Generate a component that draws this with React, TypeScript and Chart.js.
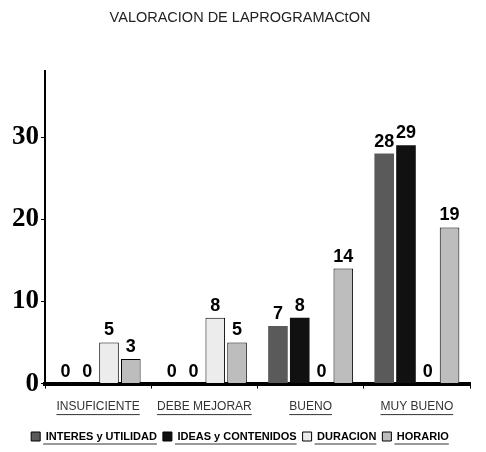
import React, { useEffect, useRef } from "react";
import { Chart, registerables } from "chart.js";

Chart.register(...registerables);

const categories = ["INSUFICIENTE", "DEBE MEJORAR", "BUENO", "MUY BUENO"];
const seriesNames = ["INTERES y UTILIDAD", "IDEAS y CONTENIDOS", "DURACION", "HORARIO"];
const interes = [0, 0, 7, 28];
const ideas = [0, 0, 8, 29];
const duracion = [5, 8, 0, 0];
const horario = [3, 5, 14, 19];
const yTicks = [0, 10, 20, 30];

const colors = ["#5a5a5a", "#111111", "#ececec", "#bdbdbd"];

const labelPlugin = {
  id: "valueLabels",
  afterDatasetsDraw(chart: any) {
    const ctx = chart.ctx;
    ctx.save();
    ctx.font = "bold 18px 'Liberation Sans', Arial, sans-serif";
    ctx.fillStyle = "#000";
    ctx.textAlign = "center";
    ctx.textBaseline = "bottom";
    chart.data.datasets.forEach((ds: any, i: number) => {
      const meta = chart.getDatasetMeta(i);
      meta.data.forEach((bar: any, j: number) => {
        ctx.fillText(String(ds.data[j]), bar.x, bar.y - 3);
      });
    });
    ctx.restore();
  },
  afterDraw(chart: any) {
    const ctx = chart.ctx;
    ctx.save();
    ctx.strokeStyle = "#333";
    ctx.lineWidth = 1;
    const xs = chart.scales.x;
    ctx.font = "12px 'Liberation Sans', Arial, sans-serif";
    const ly = xs.top + 31;
    categories.forEach((c, i) => {
      const x = xs.getPixelForValue(i);
      const w = ctx.measureText(c).width;
      ctx.beginPath();
      ctx.moveTo(x - w / 2, ly);
      ctx.lineTo(x + w / 2, ly);
      ctx.stroke();
    });
    const lg = chart.legend;
    if (lg && lg.legendHitBoxes) {
      lg.legendHitBoxes.forEach((hb: any) => {
        ctx.beginPath();
        ctx.moveTo(hb.left + 12, hb.top + hb.height + 2);
        ctx.lineTo(hb.left + hb.width, hb.top + hb.height + 2);
        ctx.stroke();
      });
    }
    ctx.restore();
  },
};

export default function App() {
  const ref = useRef<HTMLCanvasElement | null>(null);
  useEffect(() => {
    document.body.style.margin = "0";
    const chart = new Chart(ref.current as HTMLCanvasElement, {
      type: "bar",
      data: {
        labels: categories,
        datasets: [interes, ideas, duracion, horario].map((d, i) => ({
          label: seriesNames[i],
          data: d,
          backgroundColor: colors[i],
          borderColor: "#000",
          borderWidth: i === 2 || i === 3 ? 1 : 0,
          categoryPercentage: 0.82,
          barPercentage: 0.9,
        })),
      },
      options: {
        animation: false,
        responsive: false,
        layout: { padding: { left: 10, right: 16, top: 0, bottom: 0 } },
        plugins: {
          title: {
            display: true,
            text: "VALORACION DE LAPROGRAMACtON",
            color: "#222",
            font: { family: "'Liberation Sans', Arial, sans-serif", size: 14.5, weight: "normal" },
            padding: { top: 9, bottom: 45 },
          },
          legend: {
            position: "bottom",
            labels: {
              boxWidth: 9,
              boxHeight: 9,
              color: "#000",
              padding: 6,
              font: { family: "'Liberation Sans', Arial, sans-serif", size: 11, weight: "bold" },
              generateLabels: (chart: any) =>
                chart.data.datasets.map((ds: any, i: number) => ({
                  text: ds.label,
                  fillStyle: colors[i],
                  strokeStyle: "#000",
                  lineWidth: 1,
                  datasetIndex: i,
                  fontColor: "#000",
                })),
            },
          },
          tooltip: { enabled: false },
        },
        scales: {
          x: {
            grid: { display: true, drawOnChartArea: false, tickLength: 5, color: "#000", lineWidth: 1 },
            border: { display: true, color: "#000", width: 4 },
            ticks: {
              color: "#333",
              padding: 11,
              font: { family: "'Liberation Sans', Arial, sans-serif", size: 12 },
            },
          },
          y: {
            min: 0,
            max: 38,
            afterBuildTicks: (scale: any) => {
              scale.ticks = yTicks.map((v) => ({ value: v }));
            },
            grid: { display: true, drawOnChartArea: false, tickLength: 4, color: "#000" },
            border: { display: true, color: "#000", width: 2 },
            ticks: {
              color: "#000",
              padding: 2,
              font: { family: "'Liberation Serif', 'Times New Roman', serif", size: 27, weight: "bold" },
            },
          },
        },
      },
      plugins: [labelPlugin],
    });
    return () => chart.destroy();
  }, []);
  return (
    <div style={{ width: 486, height: 452 }}>
      <canvas ref={ref} width={486} height={452} />
    </div>
  );
}
